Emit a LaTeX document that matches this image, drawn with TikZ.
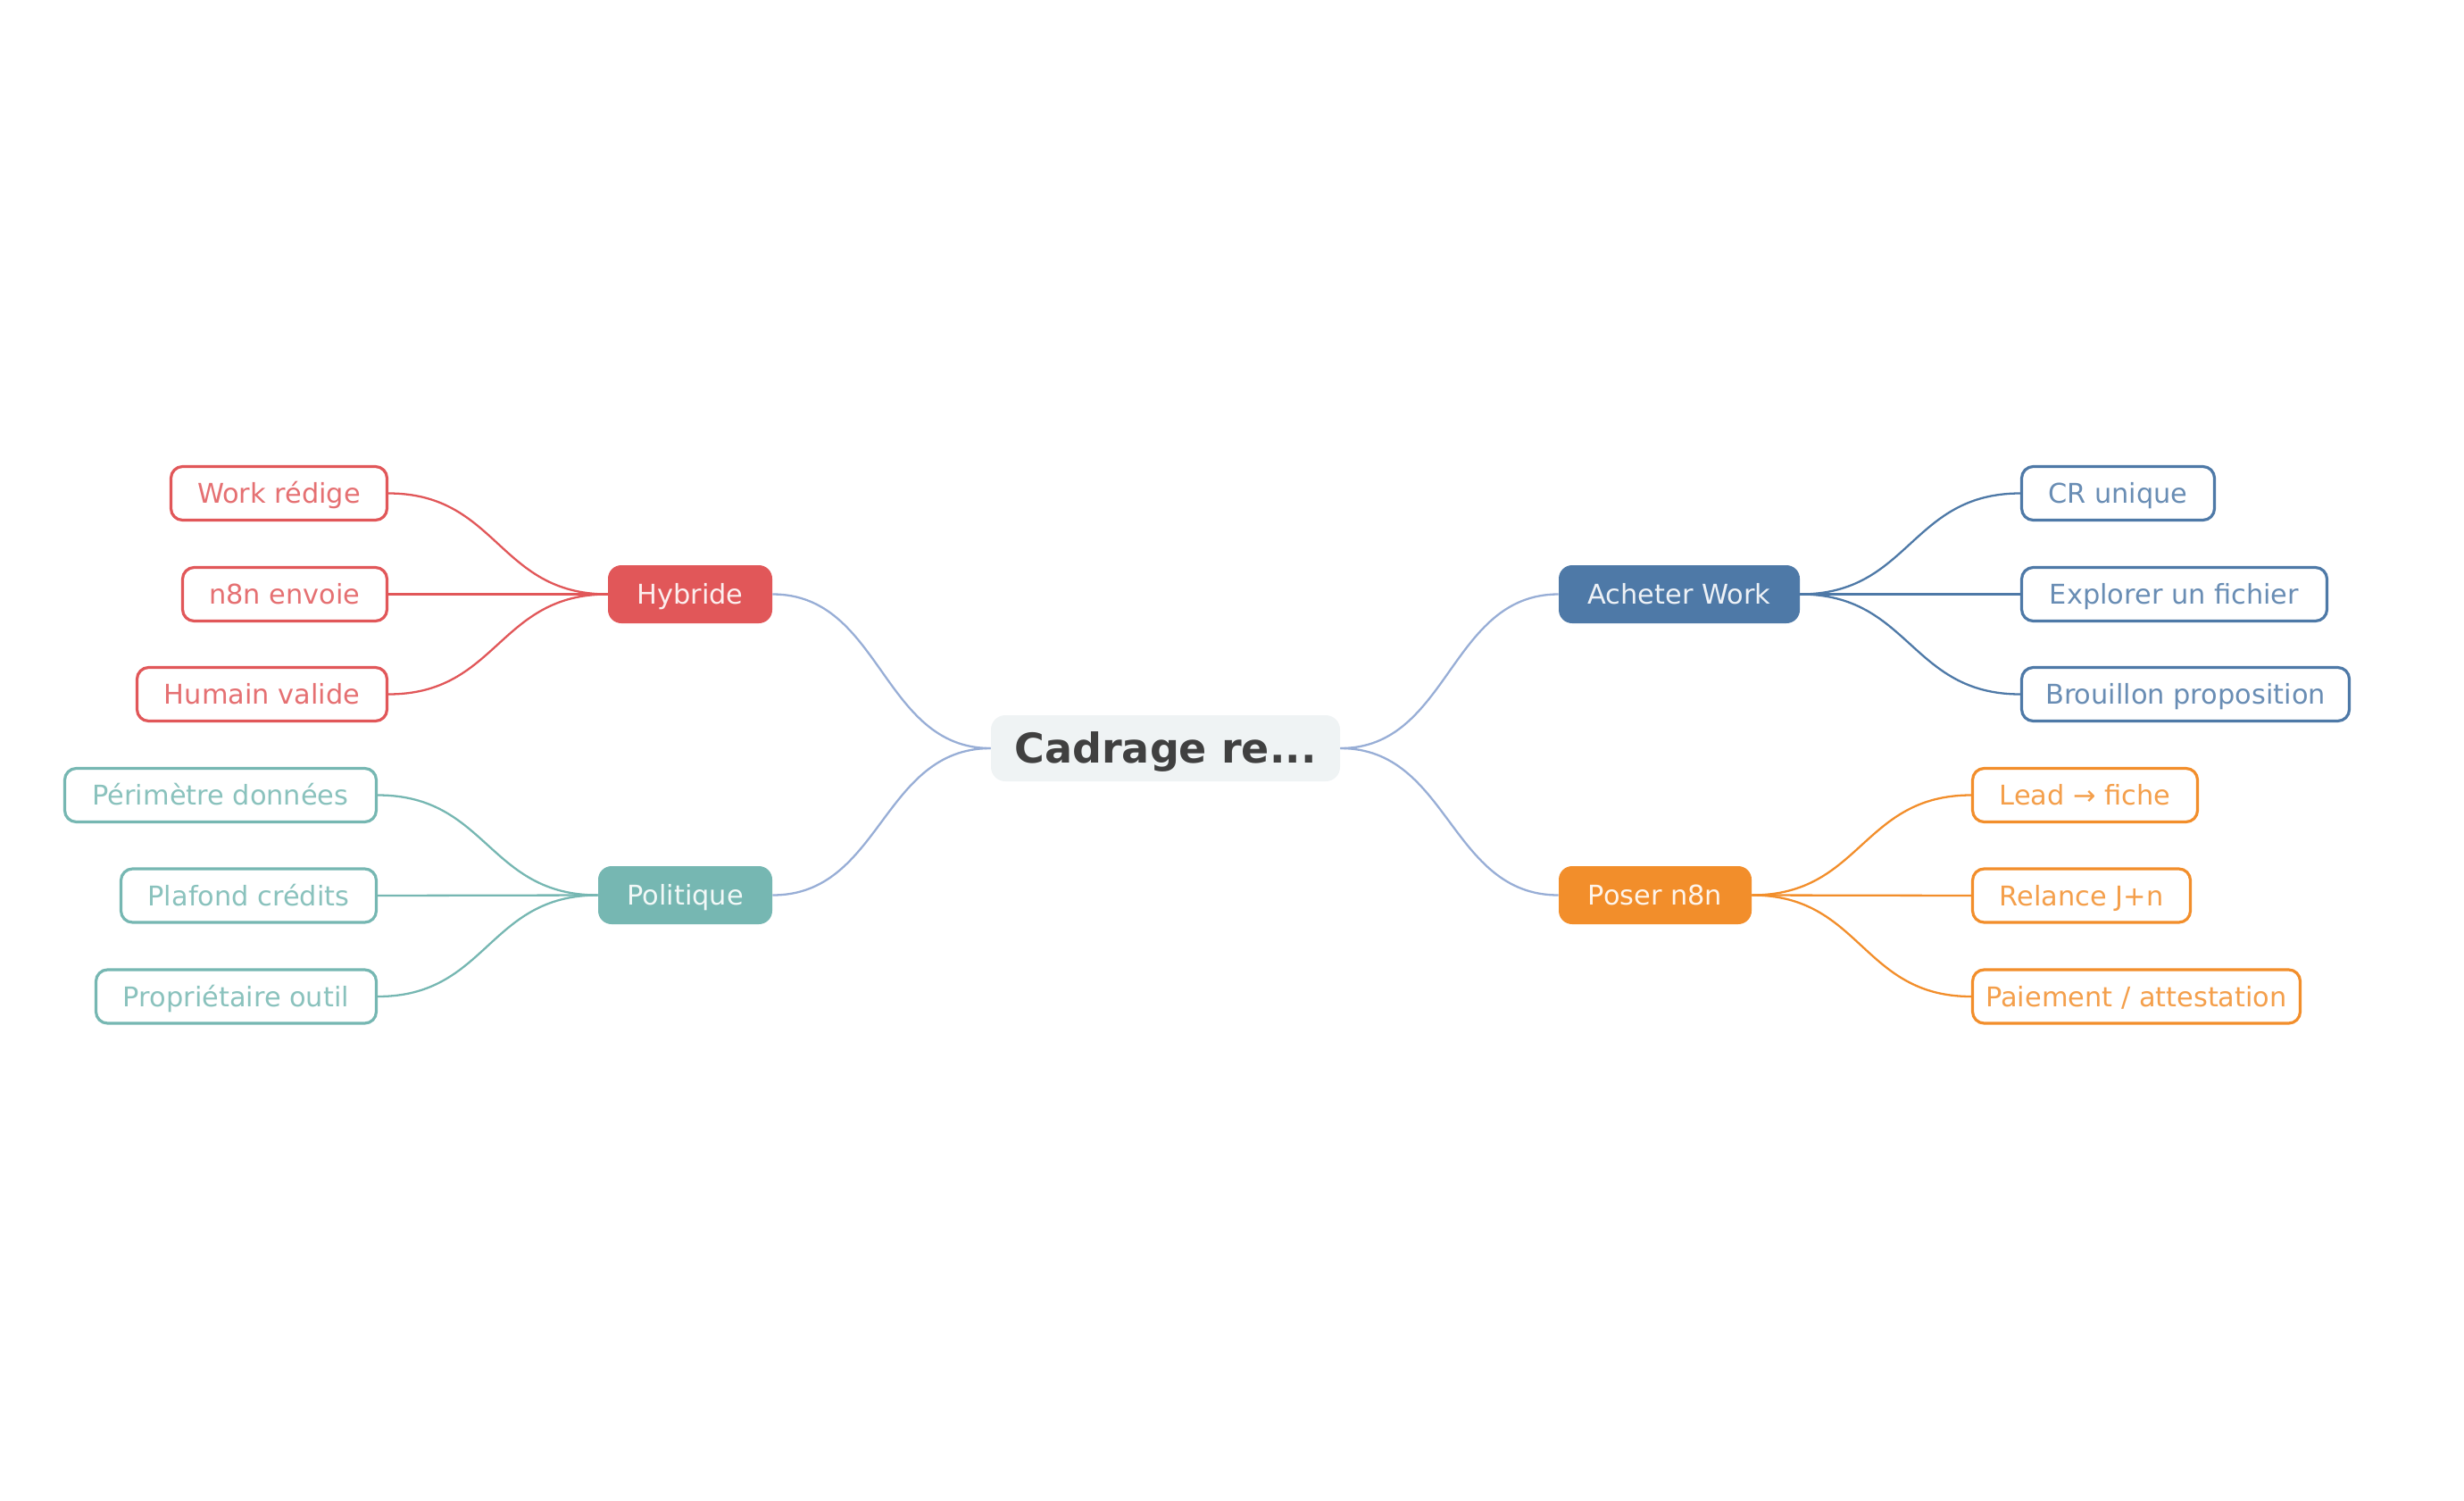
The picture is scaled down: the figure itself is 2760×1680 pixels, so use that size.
\documentclass[tikz,border=0pt]{standalone}
\usepackage{fontspec}
\setmainfont{DejaVu Sans}
\usetikzlibrary{calc}
\definecolor{cred}{HTML}{E15759}
\definecolor{cteal}{HTML}{76B7B2}
\definecolor{cblue}{HTML}{4E79A7}
\definecolor{corange}{HTML}{F28E2B}
\definecolor{clink}{HTML}{98AED6}
\definecolor{cfill}{HTML}{EFF3F4}
\definecolor{ctext}{HTML}{404040}
\tikzset{
  leaf/.style={draw=#1, line width=1.6pt, rounded corners=6.5pt, fill=white,
    text=#1!85!white, minimum height=30pt, inner sep=0pt,
    text height=11.1pt, text depth=0pt,
    font=\fontsize{15.2}{18}\selectfont},
  branch/.style={fill=#1, draw=none, rounded corners=7.5pt, text=white!90!#1,
    minimum height=32.5pt, inner sep=0pt, text height=11.1pt, text depth=0pt,
    font=\fontsize{15.2}{18}\selectfont},
  rootbox/.style={fill=cfill, draw=none, rounded corners=8pt, text=ctext,
    minimum width=195.5pt, minimum height=37pt, inner sep=0pt,
    text height=16.8pt, text depth=0pt,
    font=\bfseries\fontsize{23}{28}\selectfont},
  link/.style={draw=#1, line width=1.15pt},
}
\newcommand{\conn}[3]{%
  \draw[link=#1] let \p1=(#2), \p2=(#3) in
    (\p1) .. controls ({(\x1+\x2)/2},\y1) and ({(\x1+\x2)/2},\y2) .. (\p2);}
\begin{document}
\begin{tikzpicture}[x=0.5pt,y=-0.5pt]
\useasboundingbox (0,0) rectangle (2760,1680);
% root
\node[rootbox] (root) at (1305.5,838) {Cadrage re...};
% branches
\node[branch=cred, minimum width=92pt] (hyb) at (773,665.5) {Hybride};
\node[branch=cteal, minimum width=97.5pt] (pol) at (767.5,1002.5) {Politique};
\node[branch=cblue, minimum width=135pt] (ach) at (1881,665.5) {Acheter Work};
\node[branch=corange, minimum width=108pt] (pos) at (1854,1002.5) {Poser n8n};
% leaves left
\node[leaf=cred, minimum width=121pt] (h1) at (312.5,552.5) {Work rédige};
\node[leaf=cred, minimum width=114.5pt] (h2) at (319,665.5) {n8n envoie};
\node[leaf=cred, minimum width=140pt] (h3) at (293.5,777.5) {Humain valide};
\node[leaf=cteal, minimum width=174.5pt] (p1) at (247,890.5) {Périmètre données};
\node[leaf=cteal, minimum width=143pt] (p2) at (278.5,1003) {Plafond crédits};
\node[leaf=cteal, minimum width=157pt] (p3) at (264.5,1116) {Propriétaire outil};
% leaves right
\node[leaf=cblue, minimum width=108pt] (a1) at (2372.5,552.5) {CR unique};
\node[leaf=cblue, minimum width=171pt] (a2) at (2435.5,665.5) {Explorer un fichier};
\node[leaf=cblue, minimum width=183.5pt] (a3) at (2448,777.5) {Brouillon proposition};
\node[leaf=corange, minimum width=126pt] (o1) at (2335.5,890.5) {Lead → fiche};
\node[leaf=corange, minimum width=122pt] (o2) at (2331.5,1003) {Relance J+n};
\node[leaf=corange, minimum width=183.5pt] (o3) at (2393,1116) {Paiement / attestation};
% connectors root-branches
\conn{clink}{root.west}{hyb.east}
\conn{clink}{root.west}{pol.east}
\conn{clink}{root.east}{ach.west}
\conn{clink}{root.east}{pos.west}
% branch-leaves
\conn{cred}{hyb.west}{h1.east}
\conn{cred}{hyb.west}{h2.east}
\conn{cred}{hyb.west}{h3.east}
\conn{cteal}{pol.west}{p1.east}
\conn{cteal}{pol.west}{p2.east}
\conn{cteal}{pol.west}{p3.east}
\conn{cblue}{ach.east}{a1.west}
\conn{cblue}{ach.east}{a2.west}
\conn{cblue}{ach.east}{a3.west}
\conn{corange}{pos.east}{o1.west}
\conn{corange}{pos.east}{o2.west}
\conn{corange}{pos.east}{o3.west}
\end{tikzpicture}
\end{document}
